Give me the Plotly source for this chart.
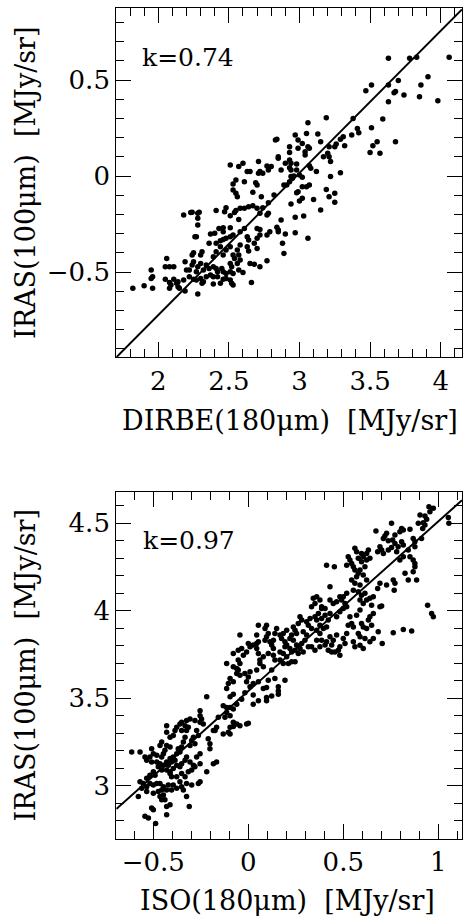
import plotly.graph_objects as go

# ---------------- data: top panel (DIRBE vs IRAS) ----------------
dirbe_x = [
    4.06, 3.63, 3.78, 3.83, 3.91, 3.86, 3.70, 3.63, 3.51, 3.47,
    3.67, 3.68, 3.63, 3.74, 3.85, 3.98, 3.59, 3.51, 3.38, 3.41,
    3.42, 3.37, 3.31, 3.29, 3.55, 3.52, 3.50, 3.57, 3.68, 3.19,
    3.32, 3.26, 3.25, 3.21, 3.20, 3.17, 3.13, 3.15, 3.06, 3.05,
    2.97, 2.99, 2.84, 2.83, 3.02, 3.06, 3.07, 2.99, 2.93, 2.93,
    3.04, 3.04, 3.21, 3.22, 2.93, 2.85, 2.85, 2.71, 2.90, 2.94,
    2.98, 3.07, 3.08, 3.12, 2.98, 2.93, 2.94, 2.87, 2.80, 2.77,
    2.78, 2.74, 2.72, 2.71, 2.63, 2.65, 2.60, 2.57, 2.51, 3.29,
    2.94, 2.95, 2.96, 3.00, 3.02, 2.93, 2.91, 2.89, 3.22, 3.02,
    2.99, 3.05, 3.07, 3.19, 3.25, 3.25, 3.21, 2.69, 2.70, 2.61,
    2.55, 2.53, 2.53, 2.55, 2.56, 2.67, 2.73, 2.82, 2.98, 3.10,
    3.02, 3.00, 2.94, 2.78, 2.74, 2.67, 2.64, 2.61, 2.58, 2.55,
    2.54, 2.48, 2.47, 2.51, 2.70, 2.72, 2.78, 2.77, 2.97, 3.03,
    3.15, 2.41, 2.28, 2.29, 2.24, 2.18, 2.28, 2.57, 2.87, 2.70,
    2.72, 2.84, 2.85, 2.43, 2.46, 2.51, 2.61, 1.82, 1.90, 1.96,
    1.95, 1.95, 1.96, 2.05, 2.11, 2.06, 2.05, 2.08, 2.11, 2.08,
    2.09, 2.13, 2.08, 2.14, 2.15, 2.19, 2.18, 2.14, 2.20, 2.19,
    2.24, 2.25, 2.31, 2.30, 2.27, 2.37, 2.36, 2.41, 2.44, 2.46,
    2.48, 2.51, 2.53, 2.40, 2.46, 2.58, 2.63, 2.64, 2.70, 2.72,
    2.77, 2.79, 2.85, 2.90, 2.97, 3.06, 2.88, 2.89, 2.77, 2.68,
    2.70, 2.63, 2.64, 2.58, 2.56, 2.57, 2.51, 2.48, 2.46, 2.44,
    2.41, 2.39, 2.58, 2.56, 2.51, 2.52, 2.65, 2.68, 2.72, 2.57,
    2.60, 2.51, 2.53, 2.45, 2.46, 2.48, 2.39, 2.41, 2.42, 2.34,
    2.36, 2.32, 2.30, 2.28, 2.27, 2.25, 2.24, 2.22, 2.34, 2.37,
    2.39, 2.30, 2.32, 2.31, 2.22, 2.25, 2.27, 2.42, 2.44, 2.39,
    2.51, 2.52, 2.53, 2.66, 2.46, 2.48, 2.28, 2.53, 2.54, 2.23, 2.28, 2.26,
]
iras_top_y = [
    0.618, 0.613, 0.613, 0.618, 0.517, 0.474, 0.497, 0.474, 0.474, 0.444,
    0.434, 0.440, 0.387, 0.422, 0.413, 0.392, 0.297, 0.252, 0.300, 0.248,
    0.226, 0.214, 0.205, 0.191, 0.179, 0.158, 0.123, 0.118, 0.179, 0.304,
    0.158, 0.167, 0.153, 0.153, 0.118, 0.100, 0.219, 0.179, 0.278, 0.222,
    0.214, 0.188, 0.191, 0.188, 0.170, 0.153, 0.144, 0.144, 0.153, 0.122,
    0.127, 0.109, 0.100, 0.075, 0.083, 0.100, 0.092, 0.075, 0.066, 0.066,
    0.063, 0.054, 0.040, 0.023, 0.031, 0.043, 0.031, 0.031, 0.049, 0.052,
    0.031, 0.014, 0.023, 0.014, 0.023, 0.023, 0.066, 0.049, 0.057, 0.017,
    -0.003, -0.012, 0.000, 0.005, -0.007, -0.030, -0.047, -0.047, -0.003, -0.056,
    -0.082, -0.056, -0.047, -0.070, -0.090, -0.137, -0.108, -0.035, -0.047, -0.030,
    -0.021, -0.042, -0.073, -0.090, -0.108, -0.085, -0.108, -0.099, -0.087, -0.122,
    -0.116, -0.130, -0.146, -0.139, -0.165, -0.155, -0.160, -0.168, -0.168, -0.180,
    -0.190, -0.165, -0.186, -0.207, -0.168, -0.194, -0.194, -0.203, -0.215, -0.208,
    -0.177, -0.180, -0.194, -0.189, -0.189, -0.203, -0.255, -0.226, -0.229, -0.273,
    -0.278, -0.267, -0.281, -0.273, -0.270, -0.270, -0.273, -0.585, -0.571, -0.585,
    -0.489, -0.533, -0.524, -0.538, -0.538, -0.429, -0.472, -0.472, -0.472, -0.555,
    -0.567, -0.559, -0.585, -0.576, -0.585, -0.599, -0.541, -0.550, -0.489, -0.446,
    -0.411, -0.399, -0.394, -0.411, -0.316, -0.302, -0.350, -0.350, -0.337, -0.330,
    -0.324, -0.316, -0.307, -0.298, -0.290, -0.290, -0.316, -0.333, -0.324, -0.307,
    -0.307, -0.290, -0.290, -0.302, -0.295, -0.324, -0.350, -0.403, -0.441, -0.350,
    -0.377, -0.368, -0.390, -0.359, -0.385, -0.411, -0.368, -0.385, -0.411, -0.368,
    -0.394, -0.420, -0.437, -0.455, -0.455, -0.472, -0.455, -0.460, -0.472, -0.489,
    -0.503, -0.498, -0.507, -0.481, -0.498, -0.507, -0.472, -0.481, -0.498, -0.463,
    -0.481, -0.489, -0.455, -0.472, -0.498, -0.446, -0.463, -0.489, -0.524, -0.515,
    -0.524, -0.533, -0.550, -0.559, -0.524, -0.538, -0.541, -0.524, -0.559, -0.562,
    -0.541, -0.559, -0.567, -0.555, -0.538, -0.533, -0.614, -0.411, -0.429, -0.190, -0.220, -0.316,
]

# ---------------- data: bottom panel (ISO vs IRAS) ----------------
iso_x = [
    0.974, 0.951, 0.956, 1.053, 1.056, 0.904, 0.930, 0.939, 0.921, 0.895,
    0.930, 0.918, 0.851, 0.754, 0.807, 0.816, 0.798, 0.672, 0.728, 0.719,
    0.711, 0.737, 0.772, 0.760, 0.772, 0.807, 0.816, 0.877, 0.868, 0.912,
    0.877, 0.842, 0.693, 0.702, 0.681, 0.711, 0.737, 0.754, 0.789, 0.781,
    0.816, 0.798, 0.851, 0.868, 0.877, 0.877, 0.868, 0.825, 0.842, 0.886,
    0.763, 0.772, 0.768, 0.693, 0.681, 0.728, 0.605, 0.623, 0.640, 0.596,
    0.579, 0.561, 0.570, 0.596, 0.623, 0.632, 0.526, 0.535, 0.544, 0.518,
    0.553, 0.561, 0.579, 0.570, 0.588, 0.605, 0.614, 0.412, 0.453, 0.544,
    0.561, 0.588, 0.623, 0.430, 0.518, 0.500, 0.491, 0.509, 0.553, 0.579,
    0.596, 0.614, 0.588, 0.605, 0.623, 0.640, 0.658, 0.649, 0.693, 0.702,
    0.658, 0.640, 0.632, 0.588, 0.570, 0.535, 0.544, 0.553, 0.526, 0.596,
    0.605, 0.623, 0.649, 0.684, 0.763, 0.816, 0.860, 0.944, 0.965, 0.974,
    0.579, 0.588, 0.614, 0.658, 0.640, 0.553, 0.561, 0.588, 0.605, 0.705,
    0.518, 0.500, 0.509, 0.482, 0.465, 0.447, 0.439, 0.421, 0.430, 0.404,
    0.386, 0.377, 0.395, 0.412, 0.360, 0.465, 0.482, 0.500, 0.518, 0.447,
    0.465, 0.482, 0.430, 0.360, 0.377, 0.386, 0.404, 0.342, 0.351, 0.333,
    0.386, 0.369, 0.351, 0.360, 0.325, 0.307, 0.316, 0.333, 0.272, 0.281,
    0.263, 0.237, 0.246, 0.254, 0.228, 0.219, 0.237, 0.202, 0.184, 0.167,
    0.175, 0.193, 0.202, 0.289, 0.307, 0.298, 0.281, 0.316, 0.333, 0.351,
    0.377, 0.404, 0.360, 0.386, 0.412, 0.430, 0.456, 0.474, 0.482, 0.421,
    0.439, 0.377, 0.096, 0.088, 0.105, 0.096, 0.088, 0.114, 0.149, 0.140,
    0.132, 0.123, 0.132, 0.044, 0.053, 0.026, 0.044, 0.000, 0.009, -0.009,
    -0.026, 0.053, 0.079, 0.061, 0.105, 0.132, 0.140, 0.167, 0.184, 0.202,
    0.228, 0.246, 0.263, 0.193, 0.219, 0.254, 0.272, 0.289, 0.228, 0.211,
    0.246, 0.167, 0.184, 0.061, 0.079, 0.044, 0.123, 0.193, -0.044, 0.053,
    -0.035, -0.053, -0.079, 0.044, -0.053, -0.044, -0.079, -0.061, -0.018, 0.000,
    0.009, -0.114, -0.053, -0.061, -0.044, -0.096, -0.079, -0.105, -0.114, -0.009,
    0.026, 0.053, 0.105, 0.140, 0.009, 0.079, 0.096, 0.158,
    -0.219, -0.096, -0.079, -0.018, 0.026, 0.026, 0.053, 0.096, 0.096, 0.123,
    0.158, 0.158, -0.035, -0.061, -0.079, -0.096, -0.114, -0.132, -0.114, -0.096,
    -0.123, -0.079, -0.061, -0.044, -0.009, 0.000, -0.096, -0.079, -0.158, -0.167,
    -0.175, -0.132, -0.096, -0.105, -0.211, -0.202, -0.202, -0.184, -0.254, -0.254,
    -0.246, -0.254, -0.237, -0.281, -0.307, -0.325, -0.333, -0.316, -0.351, -0.360,
    -0.377, -0.386, -0.351, -0.325, -0.430, -0.430, -0.395, -0.412, -0.272, -0.263,
    -0.289, -0.298, -0.281, -0.307, -0.333, -0.342, -0.351, -0.369, -0.360, -0.456,
    -0.465, -0.430, -0.412, -0.377, -0.395, -0.386, -0.404, -0.412, -0.439, -0.447,
    -0.456, -0.482, -0.509, -0.500, -0.518, -0.509, -0.614, -0.570, -0.544, -0.535,
    -0.482, -0.465, -0.447, -0.474, -0.456, -0.430, -0.421, -0.430, -0.412, -0.395,
    -0.377, -0.360, -0.351, -0.333, -0.325, -0.307, -0.289, -0.298, -0.281, -0.254,
    -0.272, -0.254, -0.219, -0.184, -0.167, -0.500, -0.491, -0.518, -0.535, -0.570,
    -0.553, -0.535, -0.561, -0.518, -0.500, -0.482, -0.465, -0.447, -0.456, -0.430,
    -0.421, -0.579, -0.535, -0.500, -0.474, -0.412, -0.404, -0.377, -0.360, -0.395,
    -0.377, -0.404, -0.351, -0.342, -0.325, -0.298, -0.263, -0.254, -0.333, -0.316,
    -0.351, -0.465, -0.447, -0.439, -0.456, -0.412, -0.430, -0.325, -0.311, -0.509,
    -0.500, -0.544, -0.526, -0.430, -0.488,
]
iras_bot_y = [
    4.586, 4.595, 4.567, 4.534, 4.500, 4.548, 4.542, 4.523, 4.504, 4.500,
    4.490, 4.471, 4.466, 4.500, 4.471, 4.462, 4.452, 4.456, 4.443, 4.427,
    4.414, 4.401, 4.433, 4.405, 4.385, 4.395, 4.376, 4.395, 4.414, 4.414,
    4.366, 4.347, 4.366, 4.347, 4.338, 4.328, 4.347, 4.362, 4.366, 4.338,
    4.309, 4.290, 4.309, 4.290, 4.271, 4.252, 4.223, 4.214, 4.176, 4.176,
    4.176, 4.157, 4.118, 4.157, 4.128, 4.147, 4.309, 4.290, 4.300, 4.280,
    4.300, 4.357, 4.338, 4.328, 4.328, 4.347, 4.309, 4.290, 4.271, 4.261,
    4.252, 4.233, 4.214, 4.195, 4.233, 4.204, 4.252, 4.261, 4.252, 4.176,
    4.157, 4.147, 4.176, 4.137, 4.100, 4.080, 4.061, 4.042, 4.118, 4.109,
    4.089, 4.100, 4.061, 4.042, 4.061, 4.071, 4.080, 4.032, 4.023, 4.027,
    3.985, 3.966, 3.947, 4.004, 3.975, 3.966, 3.927, 3.908, 3.918, 3.927,
    3.908, 3.899, 3.918, 3.880, 3.874, 3.893, 3.885, 4.032, 3.985, 3.966,
    3.870, 3.851, 3.842, 3.842, 3.823, 3.823, 3.794, 3.803, 3.784, 3.813,
    3.870, 3.842, 3.813, 3.794, 3.861, 3.832, 3.804, 3.947, 3.985, 3.975,
    3.956, 3.918, 3.899, 3.908, 3.889, 3.966, 3.995, 4.013, 4.023, 4.042,
    4.051, 4.080, 4.061, 4.080, 4.061, 4.023, 4.013, 4.071, 4.042, 4.023,
    4.013, 3.985, 3.966, 3.947, 3.956, 3.937, 3.918, 3.899, 3.966, 3.947,
    3.927, 3.908, 3.889, 3.870, 3.861, 3.842, 3.832, 3.889, 3.870, 3.861,
    3.842, 3.823, 3.804, 3.880, 3.861, 3.832, 3.813, 3.794, 3.794, 3.775,
    3.794, 3.804, 3.832, 3.832, 3.823, 3.851, 3.765, 3.775, 3.746, 3.775,
    3.765, 3.870, 3.918, 3.899, 3.870, 3.851, 3.832, 3.823, 3.899, 3.870,
    3.832, 3.804, 3.784, 3.861, 3.823, 3.804, 3.784, 3.813, 3.794, 3.765,
    3.746, 3.756, 3.737, 3.718, 3.756, 3.746, 3.718, 3.765, 3.756, 3.737,
    3.765, 3.775, 3.756, 3.794, 3.784, 3.804, 3.784, 3.765, 3.708, 3.699,
    3.708, 3.718, 3.699, 3.699, 3.680, 3.661, 3.661, 3.603, 3.861, 3.918,
    3.784, 3.775, 3.756, 3.813, 3.718, 3.699, 3.680, 3.670, 3.641, 3.622,
    3.651, 3.699, 3.661, 3.641, 3.632, 3.613, 3.594, 3.584, 3.555, 3.594,
    3.584, 3.594, 3.603, 3.613, 3.565, 3.555, 3.561, 3.565,
    3.508, 3.508, 3.523, 3.532, 3.519, 3.466, 3.485, 3.485, 3.504, 3.513,
    3.523, 3.542, 3.494, 3.466, 3.438, 3.447, 3.447, 3.457, 3.419, 3.400,
    3.391, 3.362, 3.353, 3.343, 3.353, 3.357, 3.334, 3.338, 3.391, 3.334,
    3.315, 3.296, 3.296, 3.306, 3.268, 3.240, 3.211, 3.315, 3.428, 3.400,
    3.381, 3.362, 3.353, 3.372, 3.381, 3.372, 3.343, 3.334, 3.362, 3.353,
    3.334, 3.315, 3.315, 3.315, 3.343, 3.306, 3.287, 3.277, 3.315, 3.287,
    3.277, 3.258, 3.240, 3.230, 3.277, 3.249, 3.221, 3.211, 3.192, 3.249,
    3.230, 3.230, 3.221, 3.183, 3.164, 3.145, 3.136, 3.155, 3.202, 3.183,
    3.164, 3.174, 3.211, 3.183, 3.164, 3.136, 3.192, 3.192, 3.164, 3.145,
    3.136, 3.126, 3.117, 3.108, 3.089, 3.136, 3.117, 3.089, 3.079, 3.098,
    3.117, 3.108, 3.126, 3.145, 3.164, 3.136, 3.117, 3.089, 3.108, 3.126,
    3.164, 3.183, 3.079, 3.126, 3.136, 3.079, 3.060, 3.060, 3.042, 3.023,
    3.013, 2.994, 2.985, 3.013, 3.004, 3.013, 3.013, 2.994, 2.975, 2.975,
    3.004, 2.938, 2.966, 2.957, 2.966, 3.070, 3.051, 3.051, 3.023, 3.004,
    2.985, 2.975, 2.994, 2.975, 3.013, 3.004, 3.013, 3.023, 3.051, 3.079,
    3.070, 2.938, 2.947, 2.919, 2.919, 2.891, 2.881, 2.938, 2.881, 2.872,
    2.862, 2.825, 2.815, 2.834, 2.783,
]

# fitted lines: slope k and intercept
k_top, b_top = 0.74, -2.204
k_bot, b_bot = 0.97, 3.541
range_top_x = [1.703, 4.151]
range_top_y = [-0.944, 0.875]
range_bot_x = [-0.695, 1.125]
range_bot_y = [2.695, 4.681]

W, H = 463, 920
FONT = "DejaVu Serif"


def px(v):
    return v / W


def py(v):
    return 1 - v / H


fig = go.Figure()
fig.add_trace(go.Scatter(x=dirbe_x, y=iras_top_y, mode="markers",
                         marker=dict(size=5.5, color="black"),
                         xaxis="x", yaxis="y", showlegend=False))
fig.add_trace(go.Scatter(x=range_top_x, y=[k_top * v + b_top for v in range_top_x],
                         mode="lines", line=dict(color="black", width=2),
                         xaxis="x", yaxis="y", showlegend=False))
fig.add_trace(go.Scatter(x=iso_x, y=iras_bot_y, mode="markers",
                         marker=dict(size=5.5, color="black"),
                         xaxis="x2", yaxis="y2", showlegend=False))
fig.add_trace(go.Scatter(x=range_bot_x, y=[k_bot * v + b_bot for v in range_bot_x],
                         mode="lines", line=dict(color="black", width=2),
                         xaxis="x2", yaxis="y2", showlegend=False))


def axis_style(rng, domain, anchor):
    # integer tick widths / lengths only
    return dict(range=rng, domain=domain, anchor=anchor, showline=True,
                linecolor="black", linewidth=1.3, mirror="allticks",
                ticks="inside", ticklen=15, tickwidth=1, tickcolor="black",
                dtick=0.5,
                minor=dict(dtick=0.1, ticks="inside", ticklen=8,
                           tickwidth=1, tickcolor="black"),
                showgrid=False, zeroline=False,
                tickfont=dict(family=FONT, size=26, color="black"))


xd = [px(116.3), px(462.0)]
fig.update_layout(
    width=W, height=H, margin=dict(l=0, r=0, t=0, b=0),
    paper_bgcolor="white", plot_bgcolor="white",
    xaxis=axis_style(range_top_x, xd, "y"),
    yaxis=axis_style(range_top_y, [py(357.3), py(8)], "x"),
    xaxis2=axis_style(range_bot_x, xd, "y2"),
    yaxis2=axis_style(range_bot_y, [py(839), py(491.7)], "x2"),
)

ann = [
    dict(text="k=0.74", x=px(139.5), y=py(58), xanchor="left", yanchor="middle", size=25),
    dict(text="k=0.97", x=px(140.5), y=py(540.5), xanchor="left", yanchor="middle", size=25),
    dict(text="DIRBE(180μm)  [MJy/sr]", x=px(290), y=py(420), xanchor="center", yanchor="middle", size=27),
    dict(text="ISO(180μm)  [MJy/sr]", x=px(287), y=py(900), xanchor="center", yanchor="middle", size=27),
    dict(text="IRAS(100μm)  [MJy/sr]", x=px(25), y=py(183), xanchor="center", yanchor="middle", size=27, textangle=-90),
    dict(text="IRAS(100μm)  [MJy/sr]", x=px(25), y=py(665.5), xanchor="center", yanchor="middle", size=27, textangle=-90),
]
for a in ann:
    size = a.pop("size")
    fig.add_annotation(xref="paper", yref="paper", showarrow=False,
                       font=dict(family=FONT, size=size, color="black"), **a)

fig.write_html(
    "out.html",
    config={"displayModeBar": False},
    post_script="document.body.style.margin='0';document.body.style.overflow='hidden';",
)
